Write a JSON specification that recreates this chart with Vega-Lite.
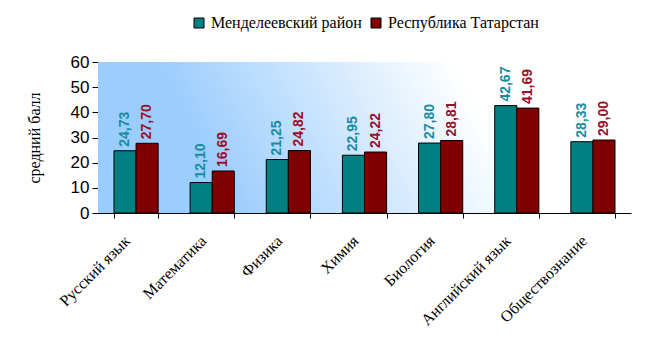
{
  "$schema": "https://vega.github.io/schema/vega-lite/v6.json",
  "width": 533,
  "height": 151,
  "autosize": "none",
  "padding": {"left": 98, "top": 62, "right": 19, "bottom": 138},
  "background": "white",
  "config": {
    "view": {"stroke": null},
    "legend": {"labelFont": "Liberation Serif", "labelFontSize": 16},
    "axisY": {
      "tickCount": 6, "grid": false, "labelOverlap": false,
      "titleFont": "Liberation Serif", "titleFontSize": 16, "titleFontWeight": "normal",
      "titleColor": "black", "titlePadding": 28,
      "domainColor": "black", "tickColor": "black", "tickSize": 6,
      "labelFont": "Liberation Sans", "labelFontSize": 17, "labelColor": "black", "labelPadding": 3
    },
    "locale": {"number": {"decimal": ",", "thousands": " ", "grouping": [3], "currency": ["", ""]}}
  },
  "data": {
    "values": [
      {"subject": "Русский язык", "series": "Менделеевский район", "value": 24.73},
      {"subject": "Русский язык", "series": "Республика Татарстан", "value": 27.70},
      {"subject": "Математика", "series": "Менделеевский район", "value": 12.10},
      {"subject": "Математика", "series": "Республика Татарстан", "value": 16.69},
      {"subject": "Физика", "series": "Менделеевский район", "value": 21.25},
      {"subject": "Физика", "series": "Республика Татарстан", "value": 24.82},
      {"subject": "Химия", "series": "Менделеевский район", "value": 22.95},
      {"subject": "Химия", "series": "Республика Татарстан", "value": 24.22},
      {"subject": "Биология", "series": "Менделеевский район", "value": 27.80},
      {"subject": "Биология", "series": "Республика Татарстан", "value": 28.81},
      {"subject": "Английский язык", "series": "Менделеевский район", "value": 42.67},
      {"subject": "Английский язык", "series": "Республика Татарстан", "value": 41.69},
      {"subject": "Обществознание", "series": "Менделеевский район", "value": 28.33},
      {"subject": "Обществознание", "series": "Республика Татарстан", "value": 29.00}
    ]
  },
  "encoding": {
    "x": {
      "field": "subject", "type": "nominal", "sort": null,
      "scale": {"paddingInner": 0.42, "paddingOuter": 0.21},
      "axis": {
        "title": null, "tickBand": "extent", "domainColor": "black", "tickColor": "black",
        "tickSize": 5, "labelAngle": -45, "labelAlign": "right", "labelBaseline": "middle",
        "labelPadding": 20, "labelOffset": -9, "labelFont": "Liberation Serif", "labelFontSize": 16,
        "labelColor": "black", "labelOverlap": false, "labelLimit": 300
      }
    }
  },
  "layer": [
    {
      "data": {"values": [{}]},
      "mark": {
        "type": "rect",
        "color": {
          "gradient": "linear", "x1": 0, "y1": 1, "x2": 1, "y2": 0.85,
          "stops": [
            {"offset": 0, "color": "#99CCFF"},
            {"offset": 0.25, "color": "#9CCDFD"},
            {"offset": 0.8, "color": "#FFFFFF"},
            {"offset": 1, "color": "#FFFFFF"}
          ]
        }
      },
      "encoding": {
        "x": null,
        "y": {
          "datum": 0, "type": "quantitative",
          "scale": {"domain": [0, 60], "nice": false},
          "axis": {"title": "средний балл"}
        },
        "y2": {"datum": 60}
      }
    },
    {
      "mark": {"type": "bar", "stroke": "black", "strokeWidth": 1},
      "encoding": {
        "xOffset": {"field": "series", "type": "nominal"},
        "y": {
          "field": "value", "type": "quantitative",
          "scale": {"domain": [0, 60], "nice": false},
          "axis": {"title": "средний балл"}
        },
        "color": {
          "field": "series", "type": "nominal",
          "scale": {"domain": ["Менделеевский район", "Республика Татарстан"], "range": ["#008080", "#800000"]},
          "legend": {
            "title": null, "orient": "none", "direction": "horizontal", "legendX": 93, "legendY": -47,
            "symbolType": "square", "symbolSize": 100, "symbolStrokeColor": "black", "symbolStrokeWidth": 1,
            "symbolOpacity": 1, "labelFont": "Liberation Serif", "labelFontSize": 16, "labelColor": "black",
            "columnPadding": 6, "labelOffset": 4
          }
        }
      }
    },
    {
      "mark": {"type": "text", "angle": 270, "align": "left", "baseline": "middle", "dx": 4,
               "font": "Liberation Sans", "fontSize": 14, "fontWeight": "bold"},
      "encoding": {
        "xOffset": {"field": "series", "type": "nominal"},
        "y": {"field": "value", "type": "quantitative", "axis": {"title": "средний балл"}},
        "text": {"field": "value", "type": "quantitative", "format": ".2f"},
        "color": {
          "field": "series", "type": "nominal",
          "scale": {"domain": ["Менделеевский район", "Республика Татарстан"], "range": ["#1A8C9E", "#9A0F2C"]},
          "legend": null
        }
      }
    }
  ],
  "resolve": {"scale": {"color": "independent"}}
}
